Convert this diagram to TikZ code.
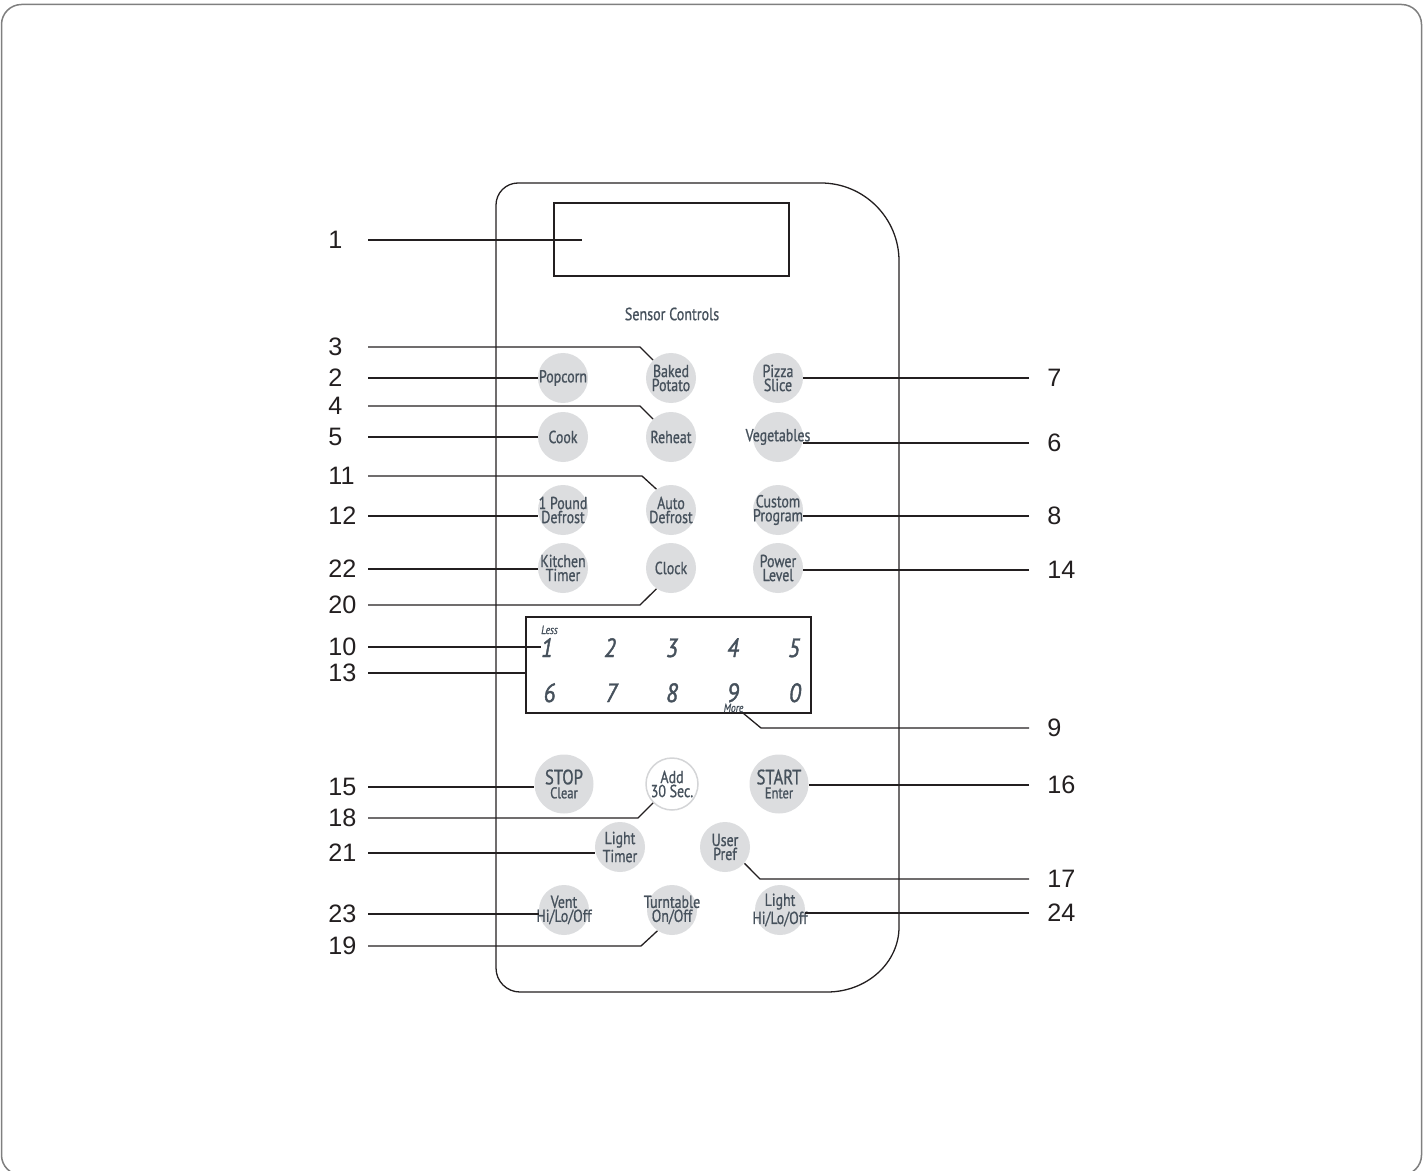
\documentclass[tikz,border=0pt]{standalone}
\usepackage{fontspec}
\setmainfont{Liberation Sans}
\newfontfamily\btnfont[FakeStretch=0.8,FakeBold=0.9]{PT Sans}
\newfontfamily\digfont[FakeStretch=0.85,FakeBold=1.6]{PT Sans}
\definecolor{ink}{HTML}{231F20}
\definecolor{keytext}{HTML}{46515C}
\definecolor{keyfill}{HTML}{DCDDDF}
\definecolor{framegray}{HTML}{7F7F7F}
\definecolor{ringgray}{HTML}{D4D5D7}
\newcommand\kbtn[3]{\node[keybtn] (#1) at (#2) {}; \node[keytxt] (#1t) at (#2) {#3};}
\begin{document}
\begin{tikzpicture}[x=0.5pt,y=-0.5pt,
  lbl/.style={anchor=west, inner sep=0pt, text=ink, font=\fontsize{12.6}{14}\selectfont},
  lead/.style={draw=ink, line width=0.65pt},
  keybtn/.style={circle, fill=keyfill, minimum size=25pt, inner sep=0pt},
  bigbtn/.style={circle, fill=keyfill, minimum size=29.5pt, inner sep=0pt},
  keytxt/.style={inner sep=0pt, align=center, text=keytext, font=\btnfont\fontsize{8.7}{7}\selectfont},
  digit/.style={anchor=base, inner sep=0pt, text=keytext, font=\digfont\itshape\fontsize{13.2}{12}\selectfont},
  tiny/.style={inner sep=0pt, text=keytext, font=\btnfont\itshape\fontsize{6}{6}\selectfont},
  boxed/.style={draw=ink, line width=0.65pt, inner sep=0pt}
]
\clip (0,0) rectangle (1428,1171);
\draw[framegray, line width=0.75pt, rounded corners=10pt] (1.5,4.5) rectangle (1421.5,1175);

% panel outline
\draw[ink, line width=0.65pt] (496,205) .. controls (496,192.9) and (505.9,183) .. (518,183)
  -- (821,183) .. controls (864,183) and (899,218) .. (899,261)
  -- (899,927) .. controls (899,962.9) and (866.8,992) .. (827,992)
  -- (520,992) .. controls (506.7,992) and (496,981.3) .. (496,968) -- cycle;

\node[boxed, minimum width=117.5pt, minimum height=36.5pt] (display) at (671.5,239.5) {};
\node[boxed, minimum width=142.5pt, minimum height=48pt] (keypad) at (668.5,665) {};
\node[keytxt, font=\btnfont\fontsize{8.8}{8}\selectfont] (sensor) at (672,314) {Sensor Controls};

% buttons
\kbtn{popcorn}{563,378}{Popcorn}
\kbtn{baked}{671,378}{Baked\\Potato}
\kbtn{pizza}{778,378}{Pizza\\Slice}
\kbtn{cook}{563,437}{Cook}
\kbtn{reheat}{671,437}{Reheat}
\kbtn{veg}{778,437}{Vegetables}
\kbtn{lbdef}{563,510}{1 Pound\\Defrost}
\kbtn{autodef}{671,510}{Auto\\Defrost}
\kbtn{custom}{778,510}{Custom\\Program}
\kbtn{kitchen}{563,568}{Kitchen\\Timer}
\kbtn{clock}{671,568}{Clock}
\kbtn{power}{778,568}{Power\\Level}
\node[bigbtn] (stop) at (564,784) {};
\node[keytxt] (stopt) at (564,784) {{\fontsize{10.4}{6.5}\selectfont STOP}\\{\fontsize{7.8}{6.5}\selectfont Clear}};
\node[circle, fill=white, draw=ringgray, line width=0.75pt, minimum size=26pt, inner sep=0pt] (add) at (672,784) {};
\node[keytxt] (addt) at (672,784) {Add\\30 Sec.};
\node[bigbtn] (start) at (779,784) {};
\node[keytxt] (startt) at (779,784) {{\fontsize{10.4}{6.5}\selectfont START}\\{\fontsize{7.8}{6.5}\selectfont Enter}};
\kbtn{ltimer}{620,847}{Light\\Timer}
\kbtn{upref}{725,847}{User\\Pref}
\kbtn{vent}{564,910}{Vent\\Hi/Lo/Off}
\kbtn{turn}{672,910}{Turntable\\On/Off}
\kbtn{lighthl}{780,910}{Light\\Hi/Lo/Off}

% keypad digits
\node[digit] (k1) at (547,657) {1};
\node[digit] (k2) at (610,657) {2};
\node[digit] (k3) at (672,657) {3};
\node[digit] (k4) at (733,657) {4};
\node[digit] (k5) at (794,657) {5};
\node[digit] (k6) at (549.5,702) {6};
\node[digit] (k7) at (611.5,702) {7};
\node[digit] (k8) at (672,702) {8};
\node[digit] (k9) at (733,702) {9};
\node[digit] (k0) at (795,702) {0};
\node[tiny, anchor=base] (less) at (549.5,634) {Less};
\node[tiny, anchor=base] (more) at (733.5,712) {More};

% number labels
\coordinate (xl) at (368,0);
\coordinate (xr) at (1029,0);
\node[lbl] (n1) at (328,240) {1};
\node[lbl] (n3) at (328,347) {3};
\node[lbl] (n2) at (328,378) {2};
\node[lbl] (n4) at (328,406) {4};
\node[lbl] (n5) at (328,437) {5};
\node[lbl] (n11) at (328,476) {11};
\node[lbl] (n12) at (328,516) {12};
\node[lbl] (n22) at (328,569) {22};
\node[lbl] (n20) at (328,605) {20};
\node[lbl] (n10) at (328,647) {10};
\node[lbl] (n13) at (328,673) {13};
\node[lbl] (n15) at (328,787) {15};
\node[lbl] (n18) at (328,818) {18};
\node[lbl] (n21) at (328,853) {21};
\node[lbl] (n23) at (328,914) {23};
\node[lbl] (n19) at (328,946) {19};
\node[lbl] (n7) at (1047,378) {7};
\node[lbl] (n6) at (1047,443) {6};
\node[lbl] (n8) at (1047,516) {8};
\node[lbl] (n14) at (1047,570) {14};
\node[lbl] (n9) at (1047,728) {9};
\node[lbl] (n16) at (1047,785) {16};
\node[lbl] (n17) at (1047,879) {17};
\node[lbl] (n24) at (1047,913) {24};

% leaders
\coordinate (d1) at ([xshift=14.5pt]display.west);
\draw[lead] (n1 -| xl) -- (n1 -| d1);
\draw[lead] (n3 -| xl) -- ++(272,0) -- (baked.135);
\draw[lead] (n2 -| xl) -- (n2 -| popcorn.west);
\draw[lead] (n4 -| xl) -- ++(272,0) -- (reheat.135);
\draw[lead] (n5 -| xl) -- (n5 -| cook.west);
\draw[lead] (n11 -| xl) -- ++(274,0) -- (autodef.125);
\draw[lead] (n12 -| xl) -- (n12 -| lbdef.west);
\draw[lead] (n22 -| xl) -- (n22 -| kitchen.west);
\draw[lead] (n20 -| xl) -- ++(272,0) -- (clock.235);
\draw[lead] (n10 -| xl) -- (n10 -| k1.west);
\draw[lead] (n13 -| xl) -- (n13 -| keypad.west);
\draw[lead] (n15 -| xl) -- (n15 -| stop.west);
\draw[lead] (n18 -| xl) -- ++(270,0) -- (add.225);
\draw[lead] (n21 -| xl) -- (n21 -| ltimer.west);
\draw[lead] (n23 -| xl) -- (n23 -| vent.west);
\draw[lead] (n19 -| xl) -- ++(273,0) -- (turn.235);
\draw[lead] (n7 -| xr) -- (n7 -| pizza.east);
\draw[lead] (n6 -| xr) -- (n6 -| veg.east);
\draw[lead] (n8 -| xr) -- (n8 -| custom.east);
\draw[lead] (n14 -| xr) -- (n14 -| power.east);
\draw[lead] (n9 -| xr) -- ++(-268,0) -- (keypad.south -| more.east);
\draw[lead] (n16 -| xr) -- (n16 -| start.east);
\draw[lead] (n17 -| xr) -- ++(-269,0) -- (upref.-40);
\draw[lead] (n24 -| xr) -- (n24 -| lighthl.east);
\end{tikzpicture}
\end{document}
